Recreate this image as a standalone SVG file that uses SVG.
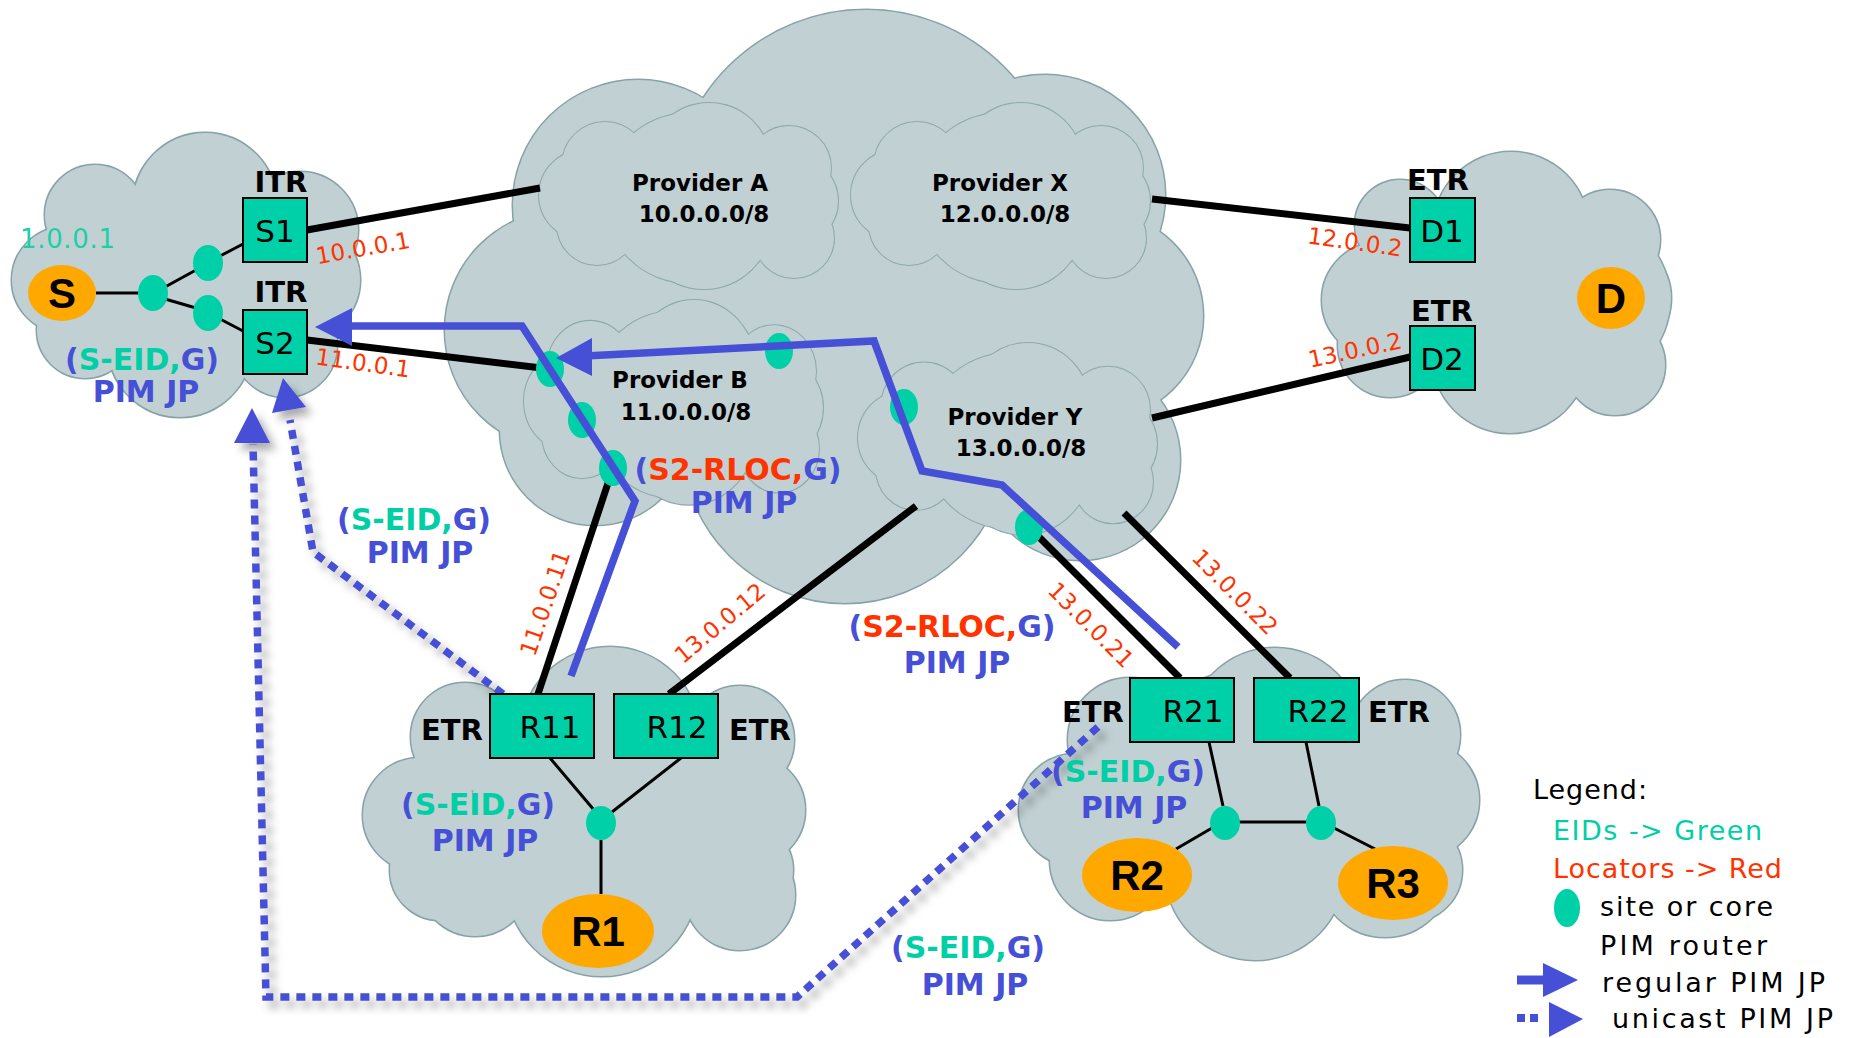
<svg xmlns="http://www.w3.org/2000/svg" xmlns:xlink="http://www.w3.org/1999/xlink" width="1854" height="1038" viewBox="0 0 1854 1038">
  <style>
    .cl-edge { fill: #87a3a7; stroke: #87a3a7; stroke-width: 3; }
    .sub-edge { fill: #8ea9ac; stroke: #8ea9ac; stroke-width: 2; }
    .cl-fill { fill: #c1d1d3; }
    .link { stroke: #000; stroke-width: 7; fill: none; }
    .thin { stroke: #000; stroke-width: 3; fill: none; }
    .jp { stroke: #4650d6; stroke-width: 7.5; fill: none; stroke-linejoin: miter; }
    .ujp { stroke: #4650d6; stroke-width: 7.5; fill: none; stroke-dasharray: 9 7; }
    .head { fill: #4650d6; }
    .dot { fill: #00d0a8; }
    .box { fill: #00d0a8; stroke: #000; stroke-width: 2; }
    .host { fill: #ffa800; }
    .hostlbl { font-family: "Liberation Sans", Arial, sans-serif; font-weight: bold; font-size: 42px; text-anchor: middle; fill: #000; }
    .boxlbl { font-family: "DejaVu Sans", sans-serif; font-size: 31px; text-anchor: middle; fill: #000; }
    .role { font-family: "DejaVu Sans", sans-serif; font-weight: bold; font-size: 29px; text-anchor: middle; fill: #000; }
    .prov { font-family: "DejaVu Sans", sans-serif; font-weight: bold; font-size: 23px; text-anchor: middle; fill: #000; }
    .ip { font-family: "DejaVu Sans", sans-serif; font-size: 23px; text-anchor: middle; fill: #ff3300; }
    .eidaddr { font-family: "DejaVu Sans", sans-serif; font-size: 26px; fill: #1ccfa6; }
    .msg { font-family: "DejaVu Sans", sans-serif; font-weight: bold; font-size: 30px; text-anchor: middle; fill: #4650d6; }
    .eid { fill: #00cfa6; }
    .rloc { fill: #ff3300; }
    .leg { font-family: "DejaVu Sans", sans-serif; font-size: 27px; fill: #000; }
    .leg-eid { font-family: "DejaVu Sans", sans-serif; font-size: 27px; fill: #00cfa6; }
    .leg-loc { font-family: "DejaVu Sans", sans-serif; font-size: 27px; fill: #ff3300; }
  </style>
  <defs>
    <!-- cloud outlines built from overlapping circles -->
    <g id="cloud-s">
      <circle cx="95" cy="215" r="50"/>
      <circle cx="205" cy="205" r="72"/>
      <circle cx="300" cy="230" r="58"/>
      <circle cx="300" cy="280" r="60"/>
      <circle cx="285" cy="345" r="52"/>
      <circle cx="180" cy="345" r="72"/>
      <circle cx="85" cy="330" r="48"/>
      <circle cx="65" cy="280" r="53"/>
      <circle cx="190" cy="280" r="100"/>
    </g>
    <g id="cloud-core">
      <circle cx="866" cy="204" r="194"/>
      <circle cx="638" cy="205" r="125"/>
      <circle cx="1045" cy="195" r="120"/>
      <circle cx="565" cy="330" r="120"/>
      <circle cx="1100" cy="316" r="103"/>
      <circle cx="595" cy="430" r="95"/>
      <circle cx="845" cy="440" r="163"/>
      <circle cx="1080" cy="460" r="100"/>
      <circle cx="850" cy="320" r="230"/>
    </g>
    <g id="cloud-d">
      <circle cx="1511" cy="230" r="78"/>
      <circle cx="1610" cy="240" r="50"/>
      <circle cx="1400" cy="225" r="45"/>
      <circle cx="1380" cy="300" r="58"/>
      <circle cx="1390" cy="345" r="52"/>
      <circle cx="1510" cy="355" r="78"/>
      <circle cx="1615" cy="365" r="50"/>
      <circle cx="1612" cy="298" r="59"/>
      <circle cx="1585" cy="300" r="85"/>
      <circle cx="1500" cy="290" r="110"/>
    </g>
    <g id="cloud-r1">
      <circle cx="610" cy="737" r="90"/>
      <circle cx="465" cy="737" r="54"/>
      <circle cx="740" cy="740" r="54"/>
      <circle cx="420" cy="815" r="57"/>
      <circle cx="440" cy="870" r="50"/>
      <circle cx="475" cy="880" r="56"/>
      <circle cx="602" cy="880" r="96"/>
      <circle cx="750" cy="810" r="55"/>
      <circle cx="745" cy="870" r="48"/>
      <circle cx="740" cy="895" r="55"/>
      <circle cx="600" cy="820" r="130"/>
    </g>
    <g id="cloud-r2">
      <circle cx="1275" cy="735" r="87"/>
      <circle cx="1130" cy="740" r="62"/>
      <circle cx="1405" cy="735" r="55"/>
      <circle cx="1420" cy="800" r="59"/>
      <circle cx="1410" cy="870" r="52"/>
      <circle cx="1385" cy="870" r="67"/>
      <circle cx="1255" cy="870" r="90"/>
      <circle cx="1110" cy="860" r="60"/>
      <circle cx="1075" cy="810" r="56"/>
      <circle cx="1250" cy="800" r="130"/>
    </g>
    <!-- provider sub-cloud, 300 x 186 -->
    <g id="sub">
      <circle cx="66" cy="62" r="43"/>
      <circle cx="170" cy="62" r="62"/>
      <circle cx="250" cy="65" r="42"/>
      <circle cx="255" cy="98" r="44"/>
      <circle cx="255" cy="135" r="40"/>
      <circle cx="165" cy="118" r="68"/>
      <circle cx="58" cy="122" r="40"/>
      <circle cx="45" cy="92" r="45"/>
      <circle cx="150" cy="95" r="85"/>
    </g>
    <filter id="shadow" filterUnits="userSpaceOnUse" x="0" y="0" width="1854" height="1038">
      <feGaussianBlur in="SourceAlpha" stdDeviation="4"/>
      <feOffset dx="6" dy="7" result="blur"/>
      <feFlood flood-color="#000" flood-opacity="0.33"/>
      <feComposite in2="blur" operator="in"/>
      <feMerge>
        <feMergeNode/>
        <feMergeNode in="SourceGraphic"/>
      </feMerge>
    </filter>
  </defs>

  <rect width="1854" height="1038" fill="#fff"/>

  <!-- sites and core -->
  <g id="site-source">
    <use href="#cloud-s" class="cl-edge"/>
    <use href="#cloud-s" class="cl-fill"/>
  </g>
  <g id="core">
    <use href="#cloud-core" class="cl-edge"/>
    <use href="#cloud-core" class="cl-fill"/>
  </g>
  <g id="site-dest">
    <use href="#cloud-d" class="cl-edge"/>
    <use href="#cloud-d" class="cl-fill"/>
  </g>
  <g id="site-r1">
    <use href="#cloud-r1" class="cl-edge"/>
    <use href="#cloud-r1" class="cl-fill"/>
  </g>
  <g id="site-r2">
    <use href="#cloud-r2" class="cl-edge"/>
    <use href="#cloud-r2" class="cl-fill"/>
  </g>

  <!-- providers -->
  <g id="provider-a">
    <g transform="translate(539,103)">
      <use href="#sub" class="sub-edge"/>
      <use href="#sub" class="cl-fill"/>
    </g>
    <text class="prov" x="700" y="191">Provider A</text>
    <text class="prov" x="704" y="222">10.0.0.0/8</text>
  </g>
  <g id="provider-x">
    <g transform="translate(851,103)">
      <use href="#sub" class="sub-edge"/>
      <use href="#sub" class="cl-fill"/>
    </g>
    <text class="prov" x="1000" y="191">Provider X</text>
    <text class="prov" x="1005" y="222">12.0.0.0/8</text>
  </g>
  <g id="provider-b">
    <g transform="translate(524,300) scale(1,1.1)">
      <use href="#sub" class="sub-edge"/>
      <use href="#sub" class="cl-fill"/>
    </g>
    <text class="prov" x="680" y="388">Provider B</text>
    <text class="prov" x="686" y="420">11.0.0.0/8</text>
  </g>
  <g id="provider-y">
    <g transform="translate(858,343) scale(1,1.03)">
      <use href="#sub" class="sub-edge"/>
      <use href="#sub" class="cl-fill"/>
    </g>
    <text class="prov" x="1015" y="425">Provider Y</text>
    <text class="prov" x="1021" y="456">13.0.0.0/8</text>
  </g>

  <!-- connectors -->
  <g id="connectors">
    <line class="link" x1="307" y1="230" x2="540" y2="188"/>
    <line class="link" x1="307" y1="340" x2="550" y2="369"/>
    <line class="link" x1="1152" y1="199" x2="1410" y2="228"/>
    <line class="link" x1="1152" y1="418" x2="1410" y2="357"/>
    <line class="link" x1="538" y1="694" x2="613" y2="468"/>
    <line class="link" x1="669" y1="694" x2="916" y2="506"/>
    <line class="link" x1="1180" y1="678" x2="1029" y2="527"/>
    <line class="link" x1="1290" y1="678" x2="1124" y2="513"/>

    <line class="thin" x1="96" y1="293" x2="140" y2="293"/>
    <line class="thin" x1="165" y1="287" x2="196" y2="270"/>
    <line class="thin" x1="220" y1="256" x2="243" y2="244"/>
    <line class="thin" x1="165" y1="299" x2="196" y2="308"/>
    <line class="thin" x1="220" y1="319" x2="243" y2="331"/>
    <line class="thin" x1="550" y1="758" x2="594" y2="810"/>
    <line class="thin" x1="681" y1="758" x2="612" y2="812"/>
    <line class="thin" x1="601" y1="840" x2="601" y2="894"/>
    <line class="thin" x1="1209" y1="742" x2="1223" y2="806"/>
    <line class="thin" x1="1306" y1="742" x2="1319" y2="806"/>
    <line class="thin" x1="1238" y1="822" x2="1308" y2="822"/>
    <line class="thin" x1="1212" y1="828" x2="1176" y2="849"/>
    <line class="thin" x1="1334" y1="828" x2="1377" y2="850"/>
  </g>

  <!-- PIM routers -->
  <g id="pim-routers">
    <ellipse class="dot" cx="153" cy="293" rx="15" ry="18"/>
    <ellipse class="dot" cx="208" cy="263" rx="15" ry="18"/>
    <ellipse class="dot" cx="208" cy="313" rx="15" ry="18"/>
    <ellipse class="dot" cx="550" cy="369" rx="14" ry="18"/>
    <ellipse class="dot" cx="582" cy="420" rx="14" ry="18"/>
    <ellipse class="dot" cx="613" cy="468" rx="14" ry="18"/>
    <ellipse class="dot" cx="779" cy="351" rx="14" ry="18"/>
    <ellipse class="dot" cx="904" cy="407" rx="14" ry="18"/>
    <ellipse class="dot" cx="1029" cy="527" rx="14" ry="18"/>
    <ellipse class="dot" cx="601" cy="823" rx="15" ry="17"/>
    <ellipse class="dot" cx="1225" cy="823" rx="15" ry="17"/>
    <ellipse class="dot" cx="1321" cy="823" rx="15" ry="17"/>
  </g>

  <!-- regular PIM join/prune -->
  <g id="regular-jp">
    <polyline class="jp" points="571,676 635,501 522,326 345,326"/>
    <polygon class="head" points="315,327 352,308 352,346"/>
    <polyline class="jp" points="1178,647 1002,485 922,471 874,341 585,356"/>
    <polygon class="head" points="556,358 592,338 592,376"/>
  </g>

  <!-- unicast PIM join/prune -->
  <g id="unicast-jp" filter="url(#shadow)">
    <polyline class="ujp" points="503,694 313,552 290,420"/>
    <polygon class="head" points="283,378 272,413 306,407"/>
    <polyline class="ujp" points="1098,727 797,997 266,997 253,444"/>
    <polygon class="head" points="252,408 234,443 270,443"/>
  </g>

  <!-- source site -->
  <g id="node-s">
    <ellipse class="host" cx="62" cy="293" rx="34" ry="28"/>
    <text class="hostlbl" x="62" y="308">S</text>
  </g>
  <g id="node-s1">
    <text class="role" x="281" y="192">ITR</text>
    <rect class="box" x="243" y="198" width="64" height="64"/>
    <text class="boxlbl" x="275" y="242">S1</text>
  </g>
  <g id="node-s2">
    <text class="role" x="281" y="302">ITR</text>
    <rect class="box" x="243" y="310" width="64" height="64"/>
    <text class="boxlbl" x="275" y="354">S2</text>
  </g>
  <text class="eidaddr" x="20" y="248" textLength="95">1.0.0.1</text>
  <text class="msg" x="142" y="370">(<tspan class="eid">S-EID,</tspan>G)</text>
  <text class="msg" x="146" y="402">PIM JP</text>
  <text class="ip" transform="translate(363,248) rotate(-10)" y="8">10.0.0.1</text>
  <text class="ip" transform="translate(363,363) rotate(8)" y="8">11.0.0.1</text>

  <!-- destination site -->
  <g id="node-d1">
    <text class="role" x="1438" y="190">ETR</text>
    <rect class="box" x="1410" y="198" width="65" height="64"/>
    <text class="boxlbl" x="1442" y="242">D1</text>
  </g>
  <g id="node-d2">
    <text class="role" x="1442" y="321">ETR</text>
    <rect class="box" x="1410" y="326" width="65" height="64"/>
    <text class="boxlbl" x="1442" y="370">D2</text>
  </g>
  <g id="node-d">
    <ellipse class="host" cx="1611" cy="298" rx="34" ry="31"/>
    <text class="hostlbl" x="1611" y="313">D</text>
  </g>
  <text class="ip" transform="translate(1355,242) rotate(8)" y="8">12.0.0.2</text>
  <text class="ip" transform="translate(1355,350) rotate(-12)" y="8">13.0.0.2</text>

  <!-- receiver site 1 -->
  <g id="node-r11">
    <text class="role" x="452" y="740">ETR</text>
    <rect class="box" x="490" y="694" width="104" height="64"/>
    <text class="boxlbl" x="550" y="738">R11</text>
  </g>
  <g id="node-r12">
    <rect class="box" x="614" y="694" width="104" height="64"/>
    <text class="boxlbl" x="677" y="738">R12</text>
    <text class="role" x="760" y="740">ETR</text>
  </g>
  <g id="node-r1">
    <ellipse class="host" cx="598" cy="931" rx="56" ry="37"/>
    <text class="hostlbl" x="598" y="946">R1</text>
  </g>
  <text class="msg" x="478" y="815">(<tspan class="eid">S-EID,</tspan>G)</text>
  <text class="msg" x="485" y="851">PIM JP</text>
  <text class="ip" transform="translate(545,603) rotate(-71)" y="8">11.0.0.11</text>
  <text class="ip" transform="translate(720,623) rotate(-40)" y="8">13.0.0.12</text>

  <!-- receiver site 2 -->
  <g id="node-r21">
    <text class="role" x="1093" y="722">ETR</text>
    <rect class="box" x="1130" y="678" width="104" height="64"/>
    <text class="boxlbl" x="1193" y="722">R21</text>
  </g>
  <g id="node-r22">
    <rect class="box" x="1254" y="678" width="105" height="64"/>
    <text class="boxlbl" x="1318" y="722">R22</text>
    <text class="role" x="1399" y="722">ETR</text>
  </g>
  <g id="node-r2">
    <ellipse class="host" cx="1137" cy="875" rx="55" ry="37"/>
    <text class="hostlbl" x="1137" y="890">R2</text>
  </g>
  <g id="node-r3">
    <ellipse class="host" cx="1393" cy="883" rx="55" ry="37"/>
    <text class="hostlbl" x="1393" y="898">R3</text>
  </g>
  <text class="msg" x="1128" y="782">(<tspan class="eid">S-EID,</tspan>G)</text>
  <text class="msg" x="1134" y="818">PIM JP</text>
  <text class="ip" transform="translate(1091,625) rotate(45)" y="8">13.0.0.21</text>
  <text class="ip" transform="translate(1235,592) rotate(45)" y="8">13.0.0.22</text>

  <!-- join/prune labels in the core -->
  <text class="msg" x="738" y="480">(<tspan class="rloc">S2-RLOC,</tspan>G)</text>
  <text class="msg" x="744" y="513">PIM JP</text>
  <text class="msg" x="414" y="530">(<tspan class="eid">S-EID,</tspan>G)</text>
  <text class="msg" x="420" y="563">PIM JP</text>
  <text class="msg" x="952" y="637">(<tspan class="rloc">S2-RLOC,</tspan>G)</text>
  <text class="msg" x="957" y="673">PIM JP</text>
  <text class="msg" x="968" y="958">(<tspan class="eid">S-EID,</tspan>G)</text>
  <text class="msg" x="975" y="995">PIM JP</text>

  <!-- legend -->
  <g id="legend">
    <text class="leg" x="1533" y="799" textLength="114">Legend:</text>
    <text class="leg-eid" x="1553" y="840" textLength="209">EIDs -&gt; Green</text>
    <text class="leg-loc" x="1553" y="878" textLength="229">Locators -&gt; Red</text>
    <ellipse class="dot" cx="1567" cy="908" rx="13" ry="19"/>
    <text class="leg" x="1600" y="916" textLength="173">site or core</text>
    <text class="leg" x="1600" y="955" textLength="167">PIM router</text>
    <line x1="1517" y1="980" x2="1548" y2="980" stroke="#4650d6" stroke-width="9"/>
    <polygon class="head" points="1543,963 1578,980 1543,997"/>
    <text class="leg" x="1602" y="992" textLength="223">regular PIM JP</text>
    <rect x="1517" y="1014" width="8" height="8" class="head"/>
    <rect x="1530" y="1014" width="8" height="8" class="head"/>
    <polygon class="head" points="1549,1002 1583,1019 1549,1037"/>
    <text class="leg" x="1612" y="1028" textLength="221">unicast PIM JP</text>
  </g>
</svg>
